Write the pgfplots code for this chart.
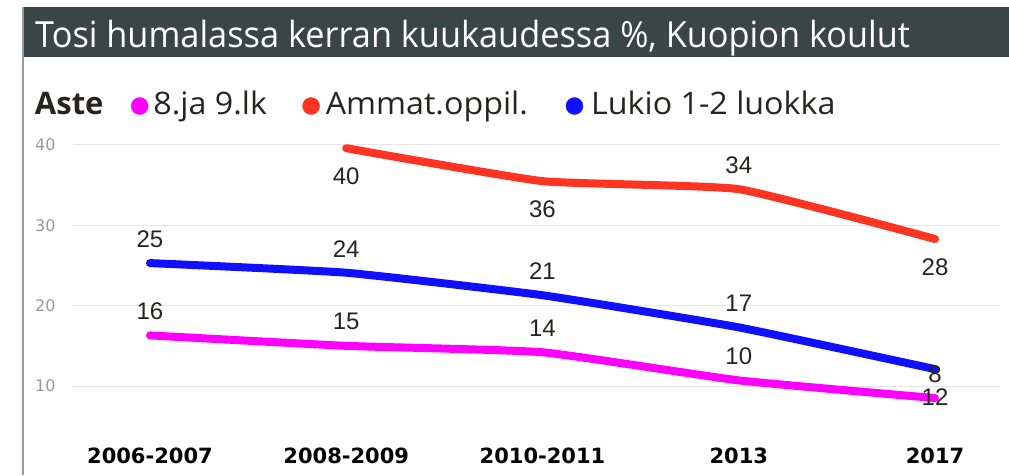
\documentclass[border=0pt]{standalone}
\usepackage{pgfplots}
\pgfplotsset{compat=1.18}
\usepackage{pgfplotstable}
\usepackage{fontspec}
\setmainfont{Open Sans}
\newfontfamily\labfont{Liberation Sans}
\newfontfamily\tickfont{DejaVu Sans}
\definecolor{barc}{HTML}{3A4548}
\definecolor{cmag}{HTML}{FF00FF}
\definecolor{cred}{HTML}{FF3322}
\definecolor{cblue}{HTML}{1010FF}
\definecolor{labc}{HTML}{252423}
\definecolor{gridc}{HTML}{E6E6E6}
\definecolor{ytc}{HTML}{999999}

\pgfplotstableread{
x y lab dy
0 16.3 16 24
1 15.0 15 24
2 14.2 14 24
3 10.7 10 24
4 8.5 8 24
}\tblA
\pgfplotstableread{
x y lab dy
1 39.6 40 -28
2 35.5 36 -28
3 34.5 34 24
4 28.3 28 -28
}\tblB
\pgfplotstableread{
x y lab dy
0 25.3 25 24
1 24.1 24 24
2 21.3 21 24
3 17.3 17 24
4 12.1 12 -28
}\tblC

\begin{document}
\begin{tikzpicture}[x=1pt,y=1pt]
\useasboundingbox (0,0) rectangle (1009,475);
\fill[barc] (23,418) rectangle (1009,468);
\draw[gray!80, line width=1.5pt] (23,468) -- (23,0);
\node[anchor=base west, text=white, inner sep=0pt, font=\fontsize{36}{40}\selectfont] at (35,427) {\scalebox{0.953}[1]{Tosi humalassa kerran kuukaudessa \%, Kuopion koulut}};
\begin{axis}[
  at={(73pt,35pt)}, anchor=south west,
  scale only axis, width=927pt, height=300pt,
  xmin=-0.392, xmax=4.331, ymin=3.28, ymax=40.62,
  axis line style={draw=none},
  major tick length=0pt,
  xtick={0,1,2,3,4},
  xticklabels={2006-2007,2008-2009,2010-2011,2013,2017},
  ytick={10,20,30,40},
  /pgf/number format/assume math mode=true,
  ymajorgrids, grid style={gridc, line width=1pt},
  xticklabel style={font=\tickfont\bfseries\fontsize{21}{24}\selectfont, text=black, yshift=-4pt},
  yticklabel style={font=\tickfont\fontsize{16}{18}\selectfont, text=ytc, anchor=east, xshift=-14pt},
  legend columns=4,
  legend style={draw=none, fill=none, at={(-38pt,337pt)}, anchor=west,
    inner sep=0pt, outer sep=0pt,
    nodes={inner sep=0pt, outer sep=0pt, anchor=base west},
    font=\fontsize{31}{34}\selectfont, text=labc,
    /tikz/column sep=0pt},
  nodes near coords,
  point meta=explicit symbolic,
  visualization depends on={\thisrow{dy} \as \dy},
  every node near coord/.append style={anchor=center, yshift=\dy pt, font=\labfont\fontsize{24}{26}\selectfont, text=labc},
  clip=false,
]
\addlegendimage{empty legend}
\addlegendentry{\makebox[96pt][l]{\textbf{Aste}}}
\addlegendimage{legend image code/.code={\fill[cmag] (8.5pt,8pt) circle (8.5pt);}}
\addlegendentry{\makebox[154pt][l]{\hspace{5pt}\scalebox{1.04}[1]{8.ja 9.lk}}}
\addlegendimage{legend image code/.code={\fill[cred] (8.5pt,8pt) circle (8.5pt);}}
\addlegendentry{\makebox[246pt][l]{\hspace{6pt}\scalebox{1.04}[1]{Ammat.oppil.}}}
\addlegendimage{legend image code/.code={\fill[cblue] (8.5pt,8pt) circle (8.5pt);}}
\addlegendentry{\makebox[260pt][l]{\hspace{8pt}\scalebox{1.04}[1]{Lukio 1-2 luokka}}}
\addplot[cmag, line width=8pt, line cap=round, smooth, tension=0.25, forget plot] table[x=x, y=y, meta=lab] {\tblA};
\addplot[cred, line width=8pt, line cap=round, smooth, tension=0.25, forget plot] table[x=x, y=y, meta=lab] {\tblB};
\addplot[cblue, line width=8pt, line cap=round, smooth, tension=0.25, forget plot] table[x=x, y=y, meta=lab] {\tblC};
\end{axis}
\end{tikzpicture}
\end{document}
